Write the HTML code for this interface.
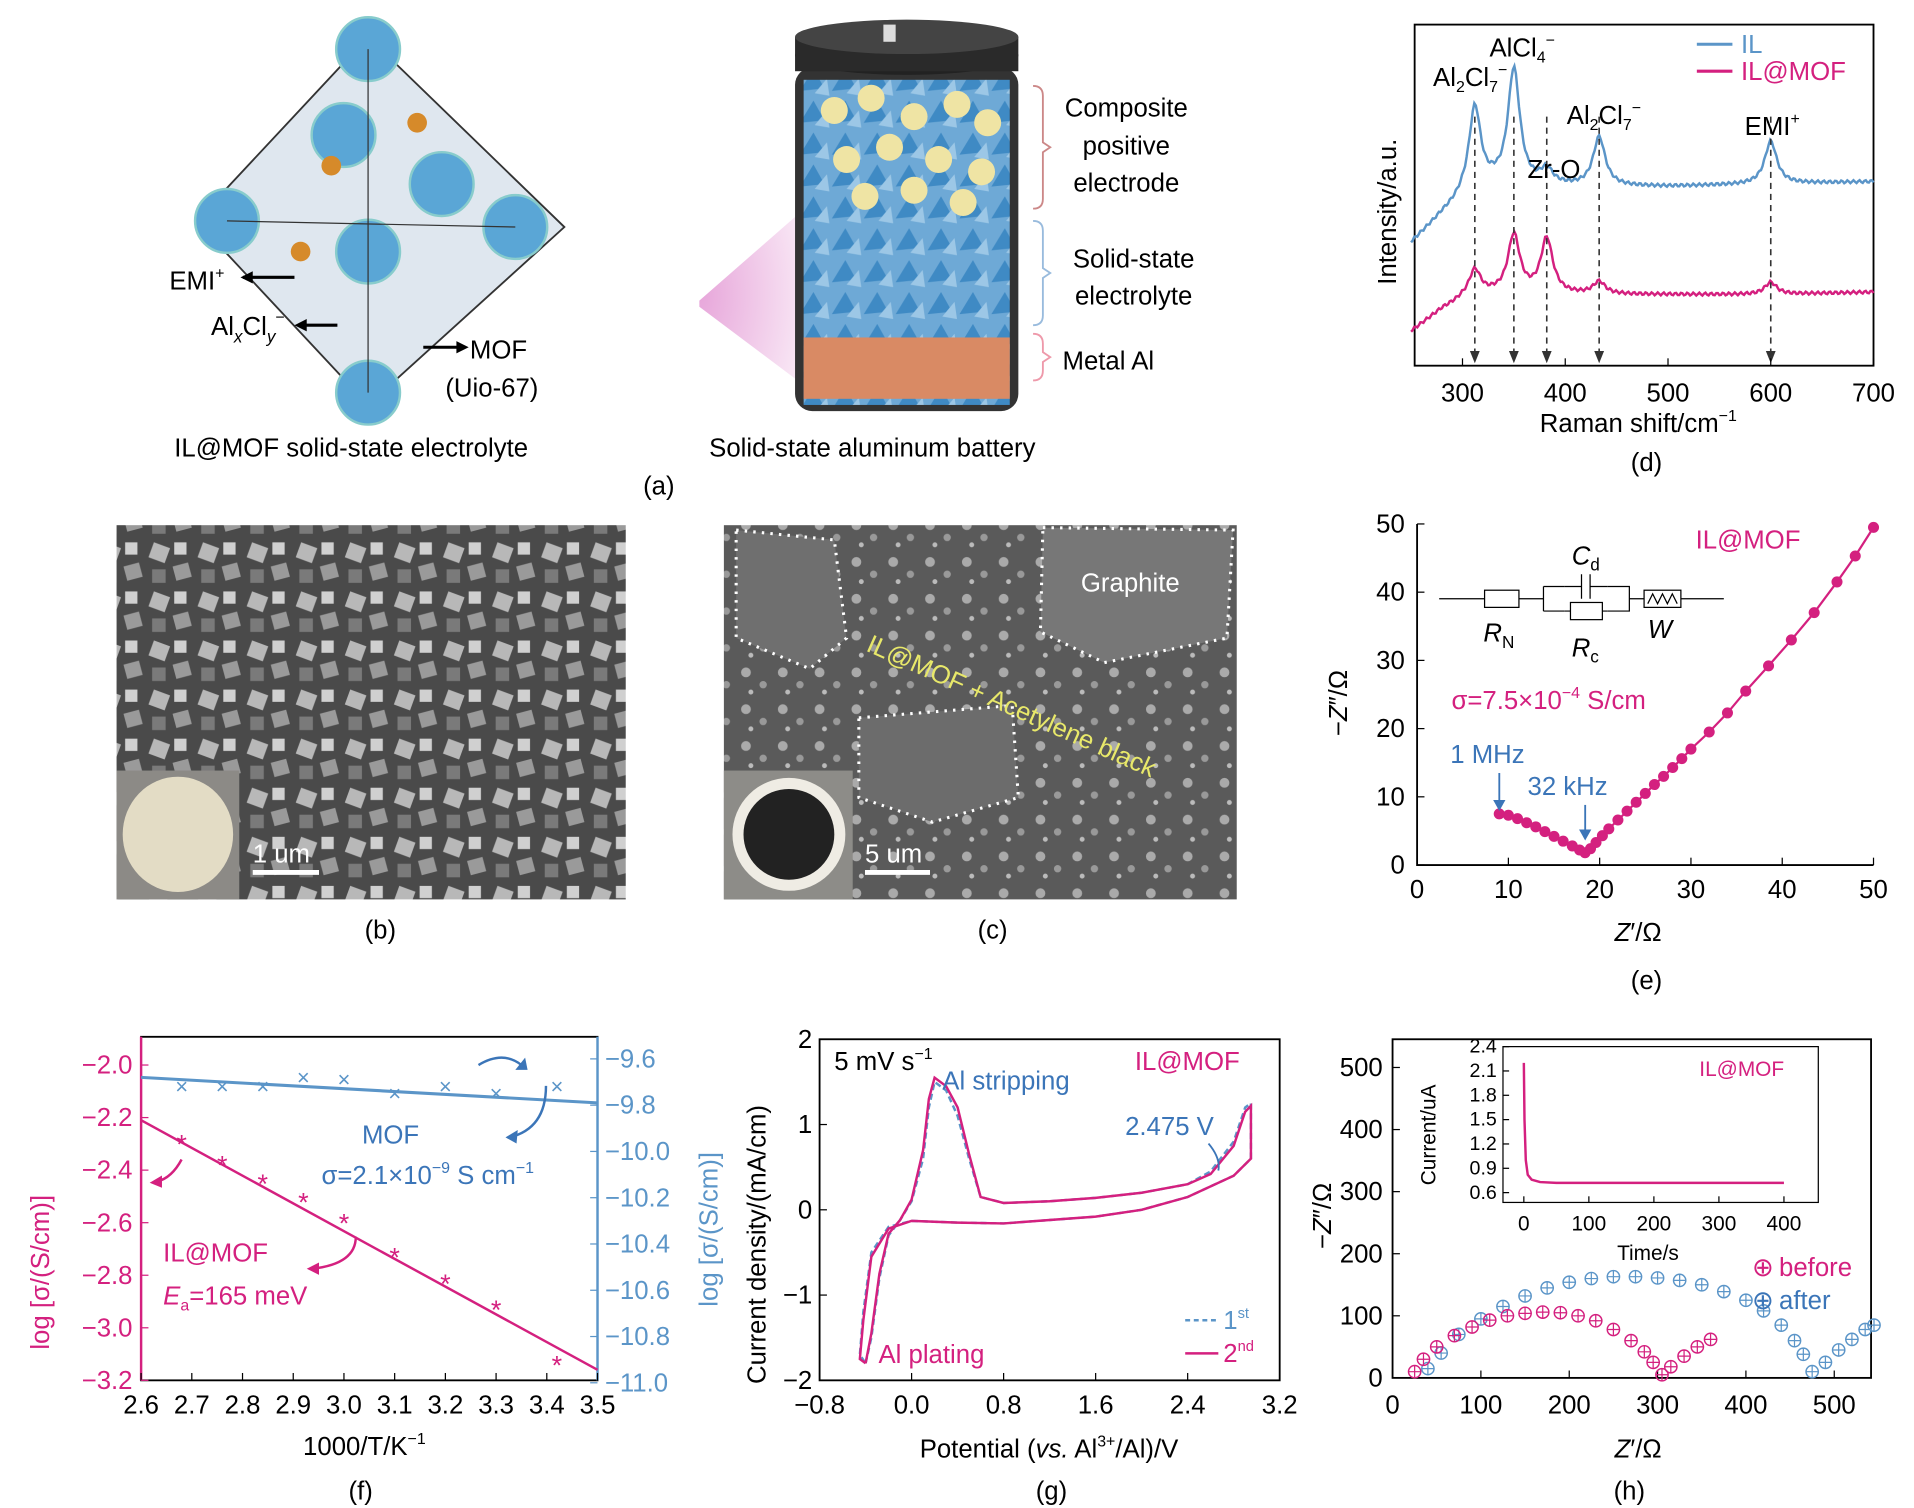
<!DOCTYPE html>
<html><head><meta charset="utf-8">
<style>
html,body{margin:0;padding:0;background:#fff;}
svg{display:block;font-family:"Liberation Sans",Arial,sans-serif;}
</style></head>
<body>
<svg id="fig" width="1914" height="1508" viewBox="0 0 1560 1229" xmlns="http://www.w3.org/2000/svg">
<defs>
<pattern id="sem1" width="40" height="40" patternUnits="userSpaceOnUse">
<rect width="40" height="40" fill="#4a4a4a"/>
<rect x="3" y="4" width="14" height="13" fill="#b8b8b8" transform="rotate(20 10 10)"/>
<rect x="22" y="20" width="13" height="12" fill="#9a9a9a" transform="rotate(-15 28 26)"/>
<rect x="22" y="2" width="10" height="10" fill="#d0d0d0"/>
<rect x="4" y="24" width="11" height="11" fill="#7a7a7a"/>
</pattern>
<pattern id="sem2" width="30" height="30" patternUnits="userSpaceOnUse">
<rect width="30" height="30" fill="#5a5a5a"/>
<circle cx="8" cy="8" r="4" fill="#aaa"/><circle cx="22" cy="18" r="3" fill="#999"/><circle cx="12" cy="24" r="2" fill="#bbb"/>
</pattern>
<pattern id="tri" width="26" height="26" patternUnits="userSpaceOnUse">
<rect width="26" height="26" fill="#6ea9d6"/>
<polygon points="2,22 13,4 22,20" fill="#3f8ac4"/>
<polygon points="14,24 24,12 26,26" fill="#9cc7e6"/>
</pattern>
<radialGradient id="cone" cx="0" cy="0.5" r="1"><stop offset="0" stop-color="#e7a6da"/><stop offset="1" stop-color="#fff"/></radialGradient>
</defs>
<g id="root" font-size="20" fill="#000"></g>
</svg>
<script>
// ---------- DATA ----------
const ramanPeaks=[312,350,382,433,600];
const ramanIL=[70,95,12,40,35];
const ramanMOF=[22,48,45,10,10];
const ramanBaseX=[250,280,300,330,400,500,600,700];
const ramanBaseIL=[198,175,162,152,152,152,150,148];
const ramanBaseMOF=[270,252,244,240,240,240,240,238];
const eisX=[9,10,11,12,13,14,15,16,17,17.8,18.4,19,19.6,20.3,21,22,23,24,25,26,27,28,29,30,32,34,36,38.5,41,43.5,46,48,50];
const eisY=[7.5,7.3,6.8,6.2,5.6,4.9,4.2,3.5,2.8,2.2,1.8,2.4,3.3,4.3,5.3,6.6,7.9,9.2,10.5,11.8,13.0,14.3,15.6,17,19.5,22.3,25.5,29.2,33,37,41.5,45.3,49.5];
const fX=[2.68,2.76,2.84,2.92,3.0,3.1,3.2,3.3,3.42];
const fIL=[-2.30,-2.38,-2.45,-2.52,-2.60,-2.73,-2.83,-2.93,-3.14];
const fFitX=[2.6,3.5];
const fFitIL=[-2.21,-3.16];
const fMOF=[-9.72,-9.72,-9.72,-9.68,-9.69,-9.75,-9.72,-9.75,-9.72];
const fFitMOF=[-9.68,-9.79];
const cvV=[-0.4,-0.35,-0.28,-0.2,-0.1,0,0.1,0.15,0.2,0.3,0.4,0.5,0.6,0.8,1.2,1.6,2.0,2.4,2.6,2.8,2.9,2.95,2.95,2.8,2.4,2.0,1.6,1.2,0.8,0.4,0,-0.2,-0.35,-0.42,-0.45,-0.4];
const cvI1=[-1.8,-1.5,-0.8,-0.3,-0.12,0.1,0.6,1.2,1.5,1.4,1.1,0.6,0.15,0.08,0.1,0.14,0.2,0.3,0.45,0.8,1.2,1.25,0.6,0.4,0.15,0,-0.08,-0.12,-0.16,-0.15,-0.13,-0.2,-0.5,-1.2,-1.7,-1.8];
const cvI2=[-1.8,-1.45,-0.75,-0.28,-0.12,0.12,0.7,1.3,1.55,1.45,1.2,0.65,0.15,0.08,0.1,0.14,0.2,0.3,0.42,0.75,1.15,1.22,0.6,0.4,0.15,0,-0.08,-0.12,-0.16,-0.15,-0.13,-0.22,-0.55,-1.3,-1.75,-1.8];
const hBx=[25,35,50,70,90,110,130,150,170,190,210,230,250,270,285,295,305,315,330,345,360];
const hBy=[10,30,50,68,82,93,100,104,106,105,100,92,78,60,42,25,5,18,35,50,62];
const hAx=[40,55,75,100,125,150,175,200,225,250,275,300,325,350,375,400,420,440,455,465,475,490,505,520,535,545];
const hAy=[15,40,70,95,115,132,145,154,160,163,163,161,157,150,139,125,108,85,60,38,10,25,45,62,78,85];
const inT=[0,1,3,6,12,25,50,100,200,300,400];
const inI=[2.2,1.5,1.0,0.82,0.76,0.73,0.72,0.72,0.72,0.72,0.72];
// ---------- helpers ----------
const NS="http://www.w3.org/2000/svg";const root=document.getElementById('root');
function el(t,a,p){const e=document.createElementNS(NS,t);for(const k in a)e.setAttribute(k,a[k]);(p||root).appendChild(e);return e;}
function txt(x,y,s,a,p){a=a||{};a.x=x;a.y=y;const e=el('text',a,p);e.innerHTML=s;return e;}
function lin(d0,d1,r0,r1){return v=>r0+(v-d0)*(r1-r0)/(d1-d0);}
function grp(name){const g=el('g',{});return g;}
function poly(xs,ys,sx,sy,a,p){return el('polyline',Object.assign({points:xs.map((v,i)=>sx(v)+','+sy(ys[i])).join(' '),fill:'none'},a),p);}
const PINK='#d4207f',BLUE='#3b75b8',LBLUE='#5b95c8';

// ---------- (a) ----------
let g=grp('panel-a-illustration');
el('polygon',{points:'570,245 690,140 690,340 570,250',fill:'url(#cone)'},g);
el('polygon',{points:'300,30 460,185 300,330 160,180',fill:'#dfe7ef',stroke:'#333','stroke-width':1.5},g);
[[300,40],[185,180],[420,185],[300,320],[300,205],[360,150],[280,110]].forEach(c=>{el('circle',{cx:c[0],cy:c[1],r:26,fill:'#5aa6d6',stroke:'#8cc','stroke-width':2},g);});
el('line',{x1:300,y1:40,x2:300,y2:320,stroke:'#333'},g);el('line',{x1:185,y1:180,x2:420,y2:185,stroke:'#333'},g);
[[270,135],[340,100],[245,205]].forEach(c=>el('circle',{cx:c[0],cy:c[1],r:8,fill:'#d68a2a'},g));
el('rect',{x:648,y:55,width:182,height:280,rx:14,fill:'#333'},g);
el('rect',{x:655,y:65,width:168,height:265,fill:'url(#tri)'},g);
el('rect',{x:655,y:275,width:168,height:50,fill:'#d98a64'},g);
el('ellipse',{cx:739,cy:45,rx:91,ry:16,fill:'#222'},g);el('rect',{x:648,y:30,width:182,height:28,fill:'#2a2a2a'},g);
el('ellipse',{cx:739,cy:30,rx:91,ry:14,fill:'#444'},g);el('rect',{x:720,y:20,width:10,height:14,fill:'#ddd'},g);
[[680,90],[710,80],[745,95],[780,85],[805,100],[690,130],[725,120],[765,130],[800,140],[705,160],[745,155],[785,165]].forEach(c=>el('circle',{cx:c[0],cy:c[1],r:11,fill:'#efe4a4'},g));
[[70,170,'#c88'],[180,265,'#9bd'],[272,310,'#e9a']].forEach(b=>el('path',{d:`M842 ${b[0]} q8 0 8 8 v${(b[1]-b[0])/2-12} l6 4 l-6 4 v${(b[1]-b[0])/2-12} q0 8 -8 8`,fill:'none',stroke:b[2],'stroke-width':1.5},g));
const at={'font-size':21};
txt(918,95,'Composite',{...at,'text-anchor':'middle'},g);txt(918,126,'positive',{...at,'text-anchor':'middle'},g);txt(918,156,'electrode',{...at,'text-anchor':'middle'},g);
txt(924,218,'Solid-state',{...at,'text-anchor':'middle'},g);txt(924,248,'electrolyte',{...at,'text-anchor':'middle'},g);
txt(866,301,'Metal Al',at,g);
txt(138,236,'EMI<tspan font-size="13" dy="-9">+</tspan>',at,g);el('path',{d:'M240 226 H198',stroke:'#000','stroke-width':2.5},g);el('polygon',{points:'196,226 206,221 206,231'},g);
txt(172,273,'Al<tspan font-size="14" dy="6" font-style="italic">x</tspan><tspan dy="-6">Cl</tspan><tspan font-size="14" dy="6" font-style="italic">y</tspan><tspan font-size="13" dy="-16">−</tspan>',at,g);el('path',{d:'M275 265 H243',stroke:'#000','stroke-width':2.5},g);el('polygon',{points:'240,265 250,260 250,270'},g);
el('path',{d:'M345 283 H378',stroke:'#000','stroke-width':2.5},g);el('polygon',{points:'382,283 372,278 372,288'},g);
txt(383,292,'MOF',at,g);txt(363,323,'(Uio-67)',at,g);
txt(142,372,'IL@MOF solid-state electrolyte',at,g);txt(578,372,'Solid-state aluminum battery',at,g);
txt(537,403,'(a)',{...at,'text-anchor':'middle'},g);

// ---------- (d) Raman ----------
g=grp('panel-d-raman');
const dx=lin(300,700,1192,1527);
el('rect',{x:1153,y:20,width:374,height:278,fill:'none',stroke:'#000','stroke-width':1.5},g);
function base(xs,ys,v){for(let i=0;i<xs.length-1;i++)if(v<=xs[i+1])return ys[i]+(ys[i+1]-ys[i])*(v-xs[i])/(xs[i+1]-xs[i]);return ys[ys.length-1];}
function raman(h,by){const xs=[],ys=[];for(let v=250;v<=700;v+=1.5){let y=base(ramanBaseX,by,v);ramanPeaks.forEach((p,i)=>{y-=h[i]/(1+((v-p)/7)**2);});xs.push(dx(v));ys.push(y+Math.sin(v*3.1)*1.2);}return xs.map((x,i)=>x+','+ys[i]).join(' ');}
el('polyline',{points:raman(ramanIL,ramanBaseIL),fill:'none',stroke:LBLUE,'stroke-width':2},g);
el('polyline',{points:raman(ramanMOF,ramanBaseMOF),fill:'none',stroke:PINK,'stroke-width':2},g);
ramanPeaks.forEach(p=>{el('line',{x1:dx(p),y1:95,x2:dx(p),y2:293,stroke:'#333','stroke-dasharray':'5,4','stroke-width':1.3},g);el('polygon',{points:`${dx(p)-4},286 ${dx(p)+4},286 ${dx(p)},296`,fill:'#333'},g);});
[300,400,500,600,700].forEach(v=>{el('line',{x1:dx(v),y1:298,x2:dx(v),y2:292,stroke:'#000'},g);txt(dx(v),327,v,{'text-anchor':'middle',...at},g);});
txt(1255,352,'Raman shift/cm<tspan font-size="13" dy="-9">−1</tspan>',at,g);
txt(1138,232,'Intensity/a.u.',{...at,transform:'rotate(-90 1138 232)'},g);
txt(1168,70,'Al<tspan font-size="13" dy="5">2</tspan><tspan dy="-5">Cl</tspan><tspan font-size="13" dy="5">7</tspan><tspan font-size="13" dy="-14">−</tspan>',at,g);
txt(1214,46,'AlCl<tspan font-size="13" dy="5">4</tspan><tspan font-size="13" dy="-14">−</tspan>',at,g);
txt(1245,145,'Zr-O',at,g);
txt(1277,101,'Al<tspan font-size="13" dy="5">2</tspan><tspan dy="-5">Cl</tspan><tspan font-size="13" dy="5">7</tspan><tspan font-size="13" dy="-14">−</tspan>',at,g);
txt(1422,110,'EMI<tspan font-size="13" dy="-9">+</tspan>',at,g);
el('line',{x1:1383,y1:36,x2:1412,y2:36,stroke:LBLUE,'stroke-width':2.5},g);txt(1419,43,'IL',{...at,fill:LBLUE},g);
el('line',{x1:1383,y1:58,x2:1412,y2:58,stroke:PINK,'stroke-width':2.5},g);txt(1419,65,'IL@MOF',{...at,fill:PINK},g);
txt(1342,384,'(d)',{...at,'text-anchor':'middle'},g);

// ---------- (b)(c) SEM ----------
g=grp('panel-b-sem-image');
el('rect',{x:95,y:428,width:415,height:305,fill:'url(#sem1)'},g);
el('rect',{x:95,y:628,width:100,height:105,fill:'#8c8a86'},g);el('ellipse',{cx:145,cy:680,rx:45,ry:47,fill:'#e3dcc5'},g);
el('line',{x1:206,y1:711,x2:260,y2:711,stroke:'#fff','stroke-width':4},g);txt(206,703,'1 um',{...at,fill:'#fff'},g);
txt(310,765,'(b)',{...at,'text-anchor':'middle'},g);
g=grp('panel-c-sem-image');
el('rect',{x:590,y:428,width:418,height:305,fill:'url(#sem2)'},g);
el('polygon',{points:'600,432 680,440 690,520 660,545 600,520',fill:'#6f6f6f',stroke:'#fff','stroke-dasharray':'2,5','stroke-width':2.5},g);
el('polygon',{points:'850,430 1005,432 1000,520 900,540 848,515',fill:'#777',stroke:'#fff','stroke-dasharray':'2,5','stroke-width':2.5},g);
el('polygon',{points:'700,585 825,575 830,650 760,670 700,650',fill:'#6c6c6c',stroke:'#fff','stroke-dasharray':'2,5','stroke-width':2.5},g);
el('rect',{x:590,y:628,width:105,height:105,fill:'#8d8c88'},g);el('circle',{cx:643,cy:680,r:46,fill:'#efece4'},g);el('circle',{cx:643,cy:680,r:37,fill:'#222'},g);
txt(881,482,'Graphite',{...at,fill:'#fff'},g);
txt(705,530,'IL@MOF + Acetylene black',{...at,fill:'#e8e86a',transform:'rotate(24 705 530)'},g);
el('line',{x1:705,y1:711,x2:758,y2:711,stroke:'#fff','stroke-width':4},g);txt(705,703,'5 um',{...at,fill:'#fff'},g);
txt(809,765,'(c)',{...at,'text-anchor':'middle'},g);

// ---------- (e) EIS ----------
g=grp('panel-e-nyquist');
const ex=lin(0,50,1155,1527),ey=lin(0,50,705,427);
el('path',{d:'M1155 427 V705 H1527',fill:'none',stroke:'#000','stroke-width':1.5},g);
[0,10,20,30,40,50].forEach(v=>{el('line',{x1:ex(v),y1:705,x2:ex(v),y2:699,stroke:'#000'},g);txt(ex(v),732,v,{'text-anchor':'middle',...at},g);el('line',{x1:1155,y1:ey(v),x2:1161,y2:ey(v),stroke:'#000'},g);txt(1145,ey(v)+7,v,{'text-anchor':'end',...at},g);});
poly(eisX,eisY,ex,ey,{stroke:PINK,'stroke-width':1.8},g);
eisX.forEach((v,i)=>{const c=el('circle',{cx:ex(v),cy:ey(eisY[i]),r:4.5,fill:PINK},g);});
txt(1316,767,'<tspan font-style="italic">Z</tspan>′/Ω',at,g);
txt(1098,600,'−<tspan font-style="italic">Z</tspan>″/Ω',{...at,transform:'rotate(-90 1098 600)'},g);
txt(1382,447,'IL@MOF',{...at,fill:PINK},g);
el('path',{d:'M1173 488 H1210 M1238 488 H1258 M1258 478 V498 M1258 478 H1275 M1258 498 H1275 M1310 478 H1328 V498 H1310 M1328 488 H1340 M1370 488 H1405',stroke:'#000',fill:'none'},g);
el('rect',{x:1210,y:481,width:28,height:14,fill:'none',stroke:'#000'},g);
el('rect',{x:1280,y:491,width:26,height:14,fill:'none',stroke:'#000'},g);
el('path',{d:'M1275 498 H1280 M1306 498 H1310 M1275 478 H1289 M1296 478 H1310 M1289 468 V488 M1296 468 V488',stroke:'#000',fill:'none'},g);
el('rect',{x:1340,y:481,width:30,height:14,fill:'none',stroke:'#000'},g);
el('path',{d:'M1343 492 l4 -8 l4 8 l4 -8 l4 8 l4 -8 l4 8',fill:'none',stroke:'#000'},g);
const it={'font-size':21,'font-style':'italic'};
txt(1281,460,'C<tspan font-size="14" dy="5" font-style="normal">d</tspan>',it,g);
txt(1209,523,'R<tspan font-size="14" dy="5" font-style="normal">N</tspan>',it,g);
txt(1281,535,'R<tspan font-size="14" dy="5" font-style="normal">c</tspan>',it,g);
txt(1343,520,'W',it,g);
txt(1183,578,'σ=7.5×10<tspan font-size="13" dy="-9">−4</tspan><tspan dy="9"> S/cm</tspan>',{...at,fill:PINK},g);
txt(1182,622,'1 MHz',{...at,fill:BLUE},g);txt(1245,648,'32 kHz',{...at,fill:BLUE},g);
el('path',{d:'M1222 630 V655',stroke:BLUE,'stroke-width':1.5},g);el('polygon',{points:'1217,652 1227,652 1222,661',fill:BLUE},g);
el('path',{d:'M1292 656 V678',stroke:BLUE,'stroke-width':1.5},g);el('polygon',{points:'1287,676 1297,676 1292,685',fill:BLUE},g);
txt(1342,806,'(e)',{...at,'text-anchor':'middle'},g);

// ---------- (f) Arrhenius ----------
g=grp('panel-f-arrhenius');
const fx=lin(2.6,3.5,115,487),fy=lin(-2.0,-3.2,868,1125),fy2=lin(-9.6,-11.0,863,1127);
el('rect',{x:115,y:845,width:372,height:280,fill:'none',stroke:'#000','stroke-width':1.5},g);
el('line',{x1:115,y1:845,x2:115,y2:1125,stroke:PINK,'stroke-width':2},g);el('line',{x1:487,y1:845,x2:487,y2:1125,stroke:LBLUE,'stroke-width':2},g);
[2.6,2.7,2.8,2.9,3.0,3.1,3.2,3.3,3.4,3.5].forEach(v=>{el('line',{x1:fx(v),y1:1125,x2:fx(v),y2:1119,stroke:'#000'},g);txt(fx(v),1152,v.toFixed(1),{'text-anchor':'middle',...at},g);});
[-2.0,-2.2,-2.4,-2.6,-2.8,-3.0,-3.2].forEach(v=>{el('line',{x1:115,y1:fy(v),x2:121,y2:fy(v),stroke:PINK},g);txt(108,fy(v)+7,'−'+Math.abs(v).toFixed(1),{'text-anchor':'end',...at,fill:PINK},g);});
[-9.6,-9.8,-10.0,-10.2,-10.4,-10.6,-10.8,-11.0].forEach(v=>{el('line',{x1:481,y1:fy2(v),x2:487,y2:fy2(v),stroke:LBLUE},g);txt(493,fy2(v)+7,'−'+Math.abs(v).toFixed(1),{...at,fill:LBLUE},g);});
poly(fFitX,fFitIL,fx,fy,{stroke:PINK,'stroke-width':2},g);
poly(fFitX,fFitMOF,fx,fy2,{stroke:LBLUE,'stroke-width':2.5},g);
fX.forEach((v,i)=>{const t=txt(fx(v),fy(fIL[i])+8,'*',{'text-anchor':'middle','font-size':22,fill:PINK},g);
const m=txt(fx(v),fy2(fMOF[i])+6,'×',{'text-anchor':'middle','font-size':18,fill:LBLUE},g);});
txt(297,1186,'1000/T/K<tspan font-size="13" dy="-9">−1</tspan>',{...at,'text-anchor':'middle'},g);
txt(40,1100,'log [σ/(S/cm)]',{...at,fill:PINK,transform:'rotate(-90 40 1100)'},g);
txt(585,1065,'log [σ/(S/cm)]',{...at,fill:LBLUE,transform:'rotate(-90 585 1065)'},g);
txt(295,932,'MOF',{...at,fill:BLUE},g);
txt(262,965,'σ=2.1×10<tspan font-size="13" dy="-9">−9</tspan><tspan dy="9"> S cm</tspan><tspan font-size="13" dy="-9">−1</tspan>',{...at,fill:BLUE},g);
txt(133,1028,'IL@MOF',{...at,fill:PINK},g);
txt(133,1063,'<tspan font-style="italic">E</tspan><tspan font-size="13" dy="5">a</tspan><tspan dy="-5">=165 meV</tspan>',{...at,fill:PINK},g);
el('path',{d:'M390 868 q20 -12 35 0',fill:'none',stroke:BLUE,'stroke-width':2},g);el('polygon',{points:'428,862 420,872 430,872',fill:BLUE},g);
el('path',{d:'M445 885 q0 35 -30 42',fill:'none',stroke:BLUE,'stroke-width':2},g);el('polygon',{points:'412,927 422,921 421,932',fill:BLUE},g);
el('path',{d:'M148 945 q-8 15 -20 18',fill:'none',stroke:PINK,'stroke-width':2},g);el('polygon',{points:'122,964 132,958 132,968',fill:PINK},g);
el('path',{d:'M290 1008 q0 22 -35 26',fill:'none',stroke:PINK,'stroke-width':2},g);el('polygon',{points:'250,1034 260,1029 260,1039',fill:PINK},g);
txt(294,1222,'(f)',{...at,'text-anchor':'middle'},g);

// ---------- (g) CV ----------
g=grp('panel-g-cv');
const gx=lin(-0.8,3.2,668,1043),gy=lin(2,-2,847,1125);
el('rect',{x:668,y:847,width:375,height:278,fill:'none',stroke:'#000','stroke-width':1.5},g);
[-0.8,0,0.8,1.6,2.4,3.2].forEach(v=>{el('line',{x1:gx(v),y1:1125,x2:gx(v),y2:1119,stroke:'#000'},g);txt(gx(v),1152,(v<0?'−':'')+Math.abs(v).toFixed(1),{'text-anchor':'middle',...at},g);});
[2,1,0,-1,-2].forEach(v=>{el('line',{x1:668,y1:gy(v),x2:674,y2:gy(v),stroke:'#000'},g);txt(662,gy(v)+7,(v<0?'−':'')+Math.abs(v),{'text-anchor':'end',...at},g);});
poly(cvV,cvI1,gx,gy,{stroke:LBLUE,'stroke-width':2,'stroke-dasharray':'5,3'},g);
poly(cvV,cvI2,gx,gy,{stroke:PINK,'stroke-width':2},g);
txt(855,1188,'Potential (<tspan font-style="italic">vs.</tspan> Al<tspan font-size="13" dy="-9">3+</tspan><tspan dy="9">/Al)/V</tspan>',{...at,'text-anchor':'middle'},g);
txt(624,1128,'Current density/(mA/cm)',{...at,transform:'rotate(-90 624 1128)'},g);
txt(680,872,'5 mV s<tspan font-size="13" dy="-9">−1</tspan>',at,g);
txt(925,872,'IL@MOF',{...at,fill:PINK},g);
txt(768,888,'Al stripping',{...at,fill:BLUE},g);
txt(917,925,'2.475 V',{...at,fill:BLUE},g);
el('path',{d:'M985 932 q10 12 8 22',fill:'none',stroke:BLUE,'stroke-width':1.5},g);
txt(716,1111,'Al plating',{...at,fill:PINK},g);
el('line',{x1:966,y1:1076,x2:993,y2:1076,stroke:LBLUE,'stroke-width':2,'stroke-dasharray':'4,3'},g);txt(997,1083,'1<tspan font-size="12" dy="-9">st</tspan>',{...at,fill:LBLUE},g);
el('line',{x1:966,y1:1103,x2:993,y2:1103,stroke:PINK,'stroke-width':2},g);txt(997,1110,'2<tspan font-size="12" dy="-9">nd</tspan>',{...at,fill:PINK},g);
txt(857,1222,'(g)',{...at,'text-anchor':'middle'},g);

// ---------- (h) ----------
g=grp('panel-h-nyquist');
const hx=lin(0,500,1135,1495),hy=lin(0,500,1123,870);
el('rect',{x:1135,y:847,width:390,height:276,fill:'none',stroke:'#000','stroke-width':1.5},g);
[0,100,200,300,400,500].forEach(v=>{el('line',{x1:hx(v),y1:1123,x2:hx(v),y2:1117,stroke:'#000'},g);txt(hx(v),1152,v,{'text-anchor':'middle',...at},g);el('line',{x1:1135,y1:hy(v),x2:1141,y2:hy(v),stroke:'#000'},g);txt(1127,hy(v)+7,v,{'text-anchor':'end',...at},g);});
function ring(xs,ys,c,name){xs.forEach((v,i)=>{const gg=el('g',{},g);const X=hx(v),Y=hy(ys[i]);el('circle',{cx:X,cy:Y,r:5,fill:'none',stroke:c,'stroke-width':1.2},gg);el('path',{d:`M${X-5} ${Y}H${X+5}M${X} ${Y-5}V${Y+5}`,stroke:c,'stroke-width':1},gg);});}
ring(hAx,hAy,LBLUE,'after-point');ring(hBx,hBy,PINK,'before-point');
txt(1316,1188,'<tspan font-style="italic">Z</tspan>′/Ω',at,g);
txt(1085,1018,'−<tspan font-style="italic">Z</tspan>″/Ω',{...at,transform:'rotate(-90 1085 1018)'},g);
txt(1428,1040,'⊕',{...at,fill:PINK},g);txt(1450,1040,'before',{...at,fill:PINK},g);
txt(1428,1067,'⊕',{...at,fill:BLUE},g);txt(1450,1067,'after',{...at,fill:BLUE},g);
const ix=lin(0,400,1242,1454),iy=lin(2.4,0.6,853,972);
el('rect',{x:1225,y:853,width:257,height:127,fill:'#fff',stroke:'#000'},g);
[0,100,200,300,400].forEach(v=>{el('line',{x1:ix(v),y1:980,x2:ix(v),y2:975,stroke:'#000'},g);txt(ix(v),1003,v,{'text-anchor':'middle','font-size':17},g);});
[2.4,2.1,1.8,1.5,1.2,0.9,0.6].forEach(v=>{el('line',{x1:1225,y1:iy(v),x2:1230,y2:iy(v),stroke:'#000'},g);txt(1220,iy(v)+5,v.toFixed(1),{'text-anchor':'end','font-size':16},g);});
poly(inT,inI,ix,iy,{stroke:PINK,'stroke-width':2},g);
txt(1385,877,'IL@MOF',{'font-size':17,fill:PINK},g);
txt(1318,1027,'Time/s',{'font-size':17},g);
txt(1170,966,'Current/uA',{'font-size':17,transform:'rotate(-90 1170 966)'},g);
txt(1328,1222,'(h)',{...at,'text-anchor':'middle'},g);
</script>
</body></html>
